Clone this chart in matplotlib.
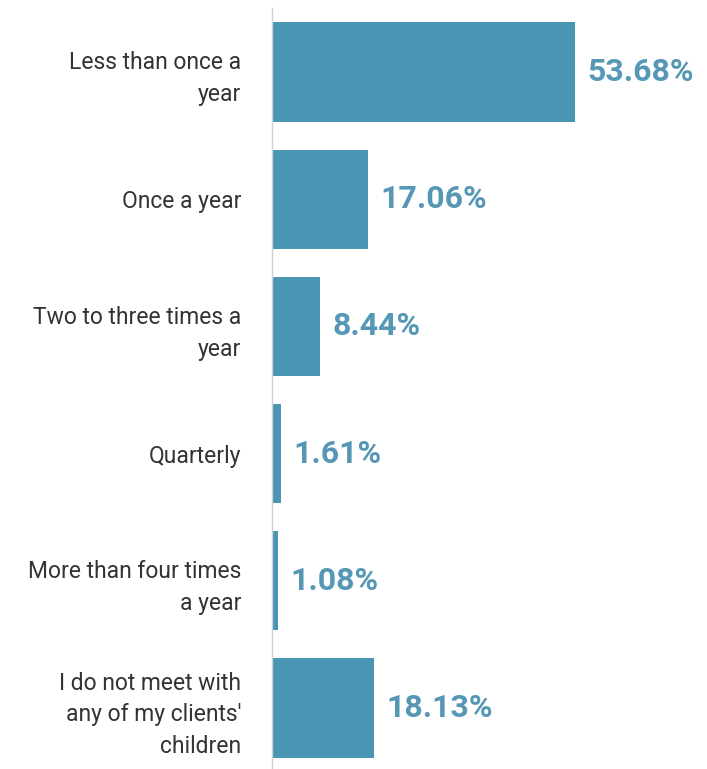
import matplotlib
matplotlib.use('Agg')
import matplotlib.pyplot as plt

categories = ['Less than once a\nyear', 'Once a year', 'Two to three times a\nyear',
              'Quarterly', 'More than four times\na year',
              'I do not meet with\nany of my clients\'\nchildren']
values = [53.68, 17.06, 8.44, 1.61, 1.08, 18.13]
value_labels = ['53.68%', '17.06%', '8.44%', '1.61%', '1.08%', '18.13%']

plt.rcParams['font.family'] = ['Roboto', 'DejaVu Sans']

W, H = 707, 769
fig = plt.figure(figsize=(W / 100, H / 100), dpi=100)
# axes from the gray baseline (x=272) to the right edge
ax = fig.add_axes([272 / W, 0, 1 - 272 / W, (769 - 8) / H])

bar_color = '#4896b4'
text_color = '#5597b5'

pos = list(range(len(categories)))
ax.barh(pos, values, height=0.78, color=bar_color)
ax.set_xlim(0, 435 / 5.645)
ax.set_ylim(5.48, -0.503)

for p, v, lab in zip(pos, values, value_labels):
    ax.annotate(lab, (v, p), xytext=(9, 0), textcoords='offset points',
                ha='left', va='center', fontsize=23, fontweight='bold', color=text_color)

ax.set_yticks(pos)
ax.set_yticklabels(categories, fontsize=16.5, color='#333333', linespacing=1.48)
ax.tick_params(axis='y', length=0, pad=22)
ax.set_xticks([])
for s in ['top', 'right', 'bottom']:
    ax.spines[s].set_visible(False)
ax.spines['left'].set_color('#d0d0d0')
ax.spines['left'].set_linewidth(1)

fig.savefig('out.png', dpi=100)
